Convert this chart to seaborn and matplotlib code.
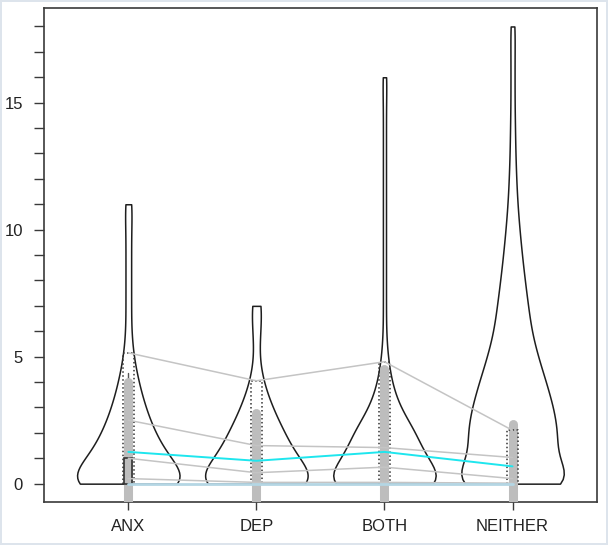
import numpy as np
import pandas as pd
import matplotlib
matplotlib.use('Agg')
import matplotlib.pyplot as plt
from matplotlib.patches import Rectangle
import seaborn as sns

groups = ['ANX', 'DEP', 'BOTH', 'NEITHER']
anx_counts = [123, 72, 47, 30, 18, 9, 5, 5, 5, 5, 5, 7]
dep_counts = [123, 72, 50, 28, 12, 4, 7, 10]
both_counts = [180, 104, 84, 38, 18, 8, 4, 4, 4, 4, 4, 4, 4, 4, 4, 4, 6]
neither_counts = [164, 104, 112, 100, 82, 62, 46, 38, 30, 23, 17, 12, 9, 7, 6, 5, 5, 5, 6]
bandwidth = 0.7

# summary levels drawn on top (one value per group)
q_top = [5.15, 4.05, 4.8, 2.1]
q_b = [2.5, 1.5, 1.42, 1.03]
q_c = [1.0, 0.43, 0.65, 0.2]
q_d = [0.2, 0.05, 0.05, 0.02]
means = [1.25, 0.9, 1.25, 0.68]
zeros = [0, 0, 0, 0]
bar_lo = [-1.5, -1.0, -2.0, -0.95]
bar_hi = [4.0, 2.8, 4.5, 2.35]
whisk_hi = [4.35, 2.8, 4.5, 2.35]
iqr_lo = [0, 0, 0, 0]
iqr_hi = [1.0, 0, 0, 0]

counts = {'ANX': anx_counts, 'DEP': dep_counts, 'BOTH': both_counts, 'NEITHER': neither_counts}
frames = []
for g in groups:
    vals = np.repeat(np.arange(len(counts[g])), counts[g])
    frames.append(pd.DataFrame({'grupo': g, 'valor': vals}))
df = pd.concat(frames, ignore_index=True)

sns.set_theme(style='ticks')
plt.rcParams['font.family'] = ['Liberation Sans', 'DejaVu Sans']

fig = plt.figure(figsize=(6.08, 5.45), dpi=100)
fig.patch.set_edgecolor('#dde4ec')
fig.patch.set_linewidth(1.5)
ax = fig.add_axes([0.072, 0.079, 0.910, 0.906])

for g in groups:
    sub = df[df['grupo'] == g]
    sns.violinplot(data=sub, x='grupo', y='valor', order=groups, ax=ax,
                   cut=0, inner=None, density_norm='width', width=0.8,
                   bw_method=bandwidth / sub['valor'].std(),
                   color='white', saturation=1, linecolor='#1e1e1e', linewidth=1.1)

pos = np.arange(len(groups))
w_dot = 0.043
w_iqr = 0.031
for i in pos:
    ax.plot([i, i], [bar_lo[i], whisk_hi[i]], color='#555555', lw=1.0, zorder=3)
    ax.plot([i, i], [bar_lo[i], bar_hi[i]], color='#bdbdbd', lw=6.5,
            solid_capstyle='round', zorder=4)
    if iqr_hi[i] > iqr_lo[i]:
        ax.add_patch(Rectangle((i - w_iqr, iqr_lo[i]), 2 * w_iqr, iqr_hi[i] - iqr_lo[i],
                               fill=False, edgecolor='#333333', lw=1.2, zorder=5))
    ax.plot([i - w_dot, i - w_dot, i + w_dot, i + w_dot], [0, q_top[i], q_top[i], 0],
            color='#333333', lw=1.1, linestyle=(0, (1, 1.6)), zorder=5)

for lvl in [q_top, q_b, q_c, q_d]:
    ax.plot(pos, lvl, color='#c4c4c4', lw=1.1, zorder=6)
ax.plot(pos, means, color='#1ee6ee', lw=1.4, zorder=7)
ax.plot(pos, zeros, color='#b4d6e4', lw=2.0, zorder=7)

ax.set_xlim(-0.66, 3.66)
ax.set_ylim(-0.72, 18.72)
ax.set_xticks(pos)
ax.set_xticklabels(groups)
ax.set_yticks([0, 5, 10, 15])
ax.set_yticks(np.arange(0, 19), minor=True)
ax.set_xlabel('')
ax.set_ylabel('')
for s in ax.spines.values():
    s.set_visible(True)
    s.set_color('#3a3a3a')
    s.set_linewidth(1.2)
ax.tick_params(axis='y', which='both', length=7.5, width=1.0, color='#3a3a3a',
               pad=7.5, labelsize=12, labelcolor='#222222')
ax.tick_params(axis='x', length=6, width=1.0, color='#3a3a3a', pad=6,
               labelsize=12, labelcolor='#222222')

plt.savefig('out.png', dpi=100, edgecolor=fig.get_edgecolor())
